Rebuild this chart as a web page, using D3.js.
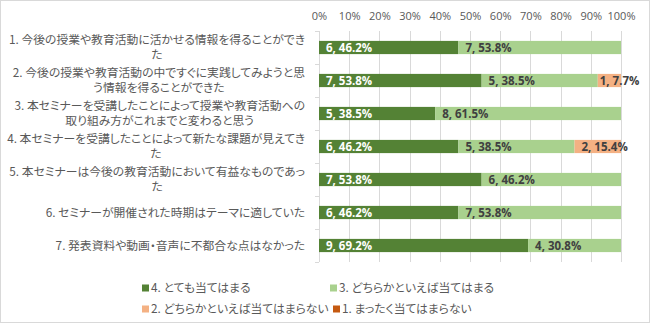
<!DOCTYPE html>
<html>
<head>
<meta charset="utf-8">
<script src="https://cdn.jsdelivr.net/npm/d3@7"></script>
<style>
  html, body { margin: 0; padding: 0; background: #fff; }
  svg { display: block; }
  .jp { font-feature-settings: "palt"; }
</style>
</head>
<body>
<svg id="chart" width="650" height="323"></svg>
<script>
// Survey items (line breaks where the label wraps)
const categories = [
  "1. 今後の授業や教育活動に活かせる情報を得ることができ\nた",
  "2. 今後の授業や教育活動の中ですぐに実践してみようと思\nう情報を得ることができた",
  "3. 本セミナーを受講したことによって授業や教育活動への\n取り組み方がこれまでと変わると思う",
  "4. 本セミナーを受講したことによって新たな課題が見えてき\nた",
  "5. 本セミナーは今後の教育活動において有益なものであっ\nた",
  "6. セミナーが開催された時期はテーマに適していた",
  "7. 発表資料や動画・音声に不都合な点はなかった"
];

// Response counts per item
const seriesNames = ["4. とても当てはまる", "3. どちらかといえば当てはまる", "2. どちらかといえば当てはまらない", "1. まったく当てはまらない"];
const s4 = [6, 7, 5, 6, 7, 6, 9];
const s3 = [7, 5, 8, 5, 6, 7, 4];
const s2 = [0, 1, 0, 2, 0, 0, 0];
const s1 = [0, 0, 0, 0, 0, 0, 0];
const tickValues = [0, 0.1, 0.2, 0.3, 0.4, 0.5, 0.6, 0.7, 0.8, 0.9, 1.0];

const colors = ["#548235", "#a9d18e", "#f4b183", "#c55a11"];
const labelColors = ["#ffffff", "#404040", "#404040", "#404040"];
const jpFont = "'Noto Sans CJK JP', 'Noto Sans', sans-serif";
const numFont = "'Open Sans', 'Noto Sans', sans-serif";

const svg = d3.select("#chart");
svg.append("rect")
  .attr("x", 0.5).attr("y", 0.5).attr("width", 649).attr("height", 322)
  .attr("fill", "#fff").attr("stroke", "#d9d9d9");

const plot = { left: 319, right: 621, top: 31, bottom: 262 };

const x = d3.scaleLinear().domain([0, 1]).range([plot.left, plot.right]);
const y = d3.scaleBand().domain(d3.range(categories.length)).range([plot.top, plot.bottom]).padding(0);

// Stack rows
const rows = categories.map((c, i) => {
  const vals = [s4[i], s3[i], s2[i], s1[i]];
  const total = d3.sum(vals);
  return { i, vals, total };
});
const stack = d3.stack().keys([0, 1, 2, 3]).value((d, k) => d.vals[k] / d.total);
const layers = stack(rows);

// Grid lines
const g = svg.append("g");
g.selectAll("line.grid").data(tickValues).join("line")
  .attr("class", "grid")
  .attr("x1", d => Math.round(x(d)) + 0.5).attr("x2", d => Math.round(x(d)) + 0.5)
  .attr("y1", plot.top).attr("y2", plot.bottom)
  .attr("stroke", "#d9d9d9").attr("stroke-width", 1);

// Category axis tick marks at band boundaries
const bounds = d3.range(categories.length + 1).map(k => plot.top + k * y.step());
g.selectAll("line.ytick").data(bounds).join("line")
  .attr("x1", plot.left - 4).attr("x2", plot.left)
  .attr("y1", d => Math.round(d) + 0.5).attr("y2", d => Math.round(d) + 0.5)
  .attr("stroke", "#d9d9d9");

// Top percentage axis
const xAxis = d3.axisTop(x).tickValues(tickValues).tickFormat(d3.format(".0%")).tickSize(0).tickPadding(0);
const ax = svg.append("g").attr("transform", `translate(0,${20})`).call(xAxis);
ax.select(".domain").remove();
ax.selectAll("text").attr("fill", "#595959").style("font-family", numFont).style("font-size", "11px");

// Bars
const barH = y.bandwidth() * 0.4;
const barLayer = svg.append("g");
layers.forEach((layer, k) => {
  barLayer.selectAll(null).data(layer.filter(d => d.data.vals[k] > 0)).join("rect")
    .attr("x", d => x(d[0]))
    .attr("width", d => x(d[1]) - x(d[0]))
    .attr("y", d => y(d.data.i) + (y.bandwidth() - barH) / 2)
    .attr("height", barH)
    .attr("fill", colors[k]);
});

// Data labels: "count, percent"
const fmt = d3.format(".1%");
layers.forEach((layer, k) => {
  barLayer.selectAll(null).data(layer.filter(d => d.data.vals[k] > 0)).join("text")
    .attr("x", d => x(d[0]) + ((x(d[1]) - x(d[0])) < 40 ? 2 : 7))
    .attr("y", d => y(d.data.i) + y.bandwidth() / 2)
    .attr("dy", "0.36em")
    .attr("fill", labelColors[k])
    .style("font-family", numFont)
    .style("font-size", "11.5px")
    .style("font-weight", "bold")
    .text(d => `${d.data.vals[k]}, ${fmt(d.data.vals[k] / d.data.total)}`);
});

// Category labels: block right-aligned, wrapped lines centred in the block
const catLayer = svg.append("g");
const lineH = 15.5;
categories.forEach((c, i) => {
  const lines = c.split("\n");
  const grp = catLayer.append("g");
  const texts = lines.map(l => grp.append("text")
    .attr("class", "jp")
    .attr("fill", "#595959")
    .style("font-family", jpFont)
    .style("font-size", "11.8px")
    .text(l));
  const widths = texts.map(t => t.node().getComputedTextLength());
  const maxW = d3.max(widths);
  const cx = 305 - maxW / 2;
  const cy = y(i) + y.bandwidth() / 2;
  texts.forEach((t, j) => {
    t.attr("x", cx).attr("text-anchor", "middle")
      .attr("y", cy + (j - (lines.length - 1) / 2) * lineH)
      .attr("dy", "0.36em");
  });
});

// Legend (2 x 2)
const legendPos = [[142, 288], [330, 288], [142, 309], [333, 309]];
const leg = svg.append("g");
seriesNames.forEach((name, k) => {
  const [lx, ly] = legendPos[k];
  leg.append("rect").attr("x", lx).attr("y", ly - 3.5).attr("width", 7).attr("height", 7).attr("fill", colors[k]);
  leg.append("text").attr("class", "jp").attr("x", lx + 9).attr("y", ly).attr("dy", "0.36em")
    .attr("fill", "#595959")
    .style("font-family", jpFont).style("font-size", "11.8px")
    .text(name);
});
</script>
</body>
</html>
